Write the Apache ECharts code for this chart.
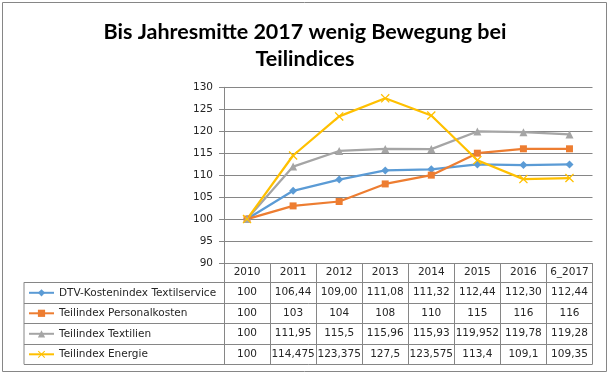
<!DOCTYPE html>
<html>
<head>
<meta charset="utf-8">
<script src="https://cdn.jsdelivr.net/npm/echarts@6/dist/echarts.min.js"></script>
<style>
html,body{margin:0;padding:0;background:#fff;}
#chart{width:610px;height:375px;}
</style>
</head>
<body>
<div id="chart"></div>
<script>
// ---- data (as printed in the reference's data table) ----
const titleLines = ['Bis Jahresmitte 2017 wenig Bewegung bei', 'Teilindices'];
const categories = ['2010', '2011', '2012', '2013', '2014', '2015', '2016', '6_2017'];
const seriesNames = ['DTV-Kostenindex Textilservice', 'Teilindex Personalkosten', 'Teilindex Textilien', 'Teilindex Energie'];
const dtvKostenindex = ['100', '106,44', '109,00', '111,08', '111,32', '112,44', '112,30', '112,44'];
const personalkosten = ['100', '103', '104', '108', '110', '115', '116', '116'];
const textilien = ['100', '111,95', '115,5', '115,96', '115,93', '119,952', '119,78', '119,28'];
const energie = ['100', '114,475', '123,375', '127,5', '123,575', '113,4', '109,1', '109,35'];
const yTicks = { min: 90, max: 130, interval: 5 };

// ---- styles / layout ----
const colors = ['#5B9BD5', '#ED7D31', '#A5A5A5', '#FFC000'];
const symbols = ['diamond', 'rect', 'triangle', 'path://M0,1L1,0L5,4L9,0L10,1L6,5L10,9L9,10L5,6L1,10L0,9L4,5Z'];
const symbolSizes = [8, 7, 8, 9];
const rows = [dtvKostenindex, personalkosten, textilien, energie];
const toNum = s => parseFloat(s.replace(',', '.'));

const W = 610, H = 375;
const GRID_LEFT = 224, GRID_RIGHT = 17.5, GRID_TOP = 87.3, GRID_BOTTOM = 112;
const AXIS_Y = H - GRID_BOTTOM;
const HEADER_H = 19.3, ROW_H = 20.5;
const TABLE_LEFT = 24, TABLE_RIGHT = W - GRID_RIGHT;
const LINE_COLOR = '#868686';
const TEXT_COLOR = '#262626';
const FONT = 'DejaVu Sans';
const FS = 10.5;

const xAxes = [{
  type: 'category', gridIndex: 0, position: 'bottom', data: categories, boundaryGap: true,
  axisLine: { show: true, onZero: false, lineStyle: { color: LINE_COLOR, width: 1 } },
  axisTick: { show: true, interval: 0, length: HEADER_H + ROW_H * rows.length, lineStyle: { color: LINE_COLOR, width: 1 } },
  axisLabel: { interval: 0, margin: 0, lineHeight: HEADER_H, color: TEXT_COLOR, fontFamily: FONT, fontSize: FS },
  splitLine: { show: false }
}];
rows.forEach((r, i) => {
  xAxes.push({
    type: 'category', gridIndex: 0, position: 'bottom', data: categories, boundaryGap: true,
    offset: HEADER_H + ROW_H * i,
    axisLine: { show: false, onZero: false }, axisTick: { show: false }, splitLine: { show: false },
    axisLabel: { interval: 0, margin: 0, lineHeight: ROW_H, color: TEXT_COLOR, fontFamily: FONT, fontSize: FS,
      formatter: (v, idx) => r[idx] }
  });
});

const graphics = [
  { type: 'rect', shape: { x: 2.5, y: 2.5, width: 604, height: 369 }, style: { fill: 'none', stroke: LINE_COLOR, lineWidth: 1 }, silent: true },
  { type: 'text', left: 'center', top: 18, style: { text: titleLines.join('\n'), font: 'bold 21.5px Lato', fill: '#000', textAlign: 'center', lineHeight: 27.5 } },
  { type: 'line', shape: { x1: TABLE_LEFT, y1: AXIS_Y + HEADER_H, x2: TABLE_LEFT, y2: AXIS_Y + HEADER_H + ROW_H * rows.length }, style: { stroke: LINE_COLOR, lineWidth: 1 } }
];
for (let i = 0; i <= rows.length; i++) {
  const y = Math.round(AXIS_Y + HEADER_H + ROW_H * i) + 0.5;
  graphics.push({ type: 'line', shape: { x1: TABLE_LEFT, y1: y, x2: TABLE_RIGHT, y2: y }, style: { stroke: LINE_COLOR, lineWidth: 1 } });
}

const chart = echarts.init(document.getElementById('chart'), null, { renderer: 'canvas' });
chart.setOption({
  animation: false,
  backgroundColor: '#fff',
  color: colors,
  grid: { left: GRID_LEFT, right: GRID_RIGHT, top: GRID_TOP, bottom: GRID_BOTTOM, containLabel: false },
  legend: {
    orient: 'vertical', left: 28, top: AXIS_Y + HEADER_H + 3.5, padding: 0,
    itemWidth: 25, itemHeight: 9, itemGap: ROW_H - 14,
    data: seriesNames,
    textStyle: { color: TEXT_COLOR, fontFamily: FONT, fontSize: FS, lineHeight: 14 }
  },
  xAxis: xAxes,
  yAxis: {
    type: 'value', min: yTicks.min, max: yTicks.max, interval: yTicks.interval,
    axisLine: { show: true, lineStyle: { color: LINE_COLOR, width: 1 } },
    axisTick: { show: true, length: 5, lineStyle: { color: LINE_COLOR } },
    axisLabel: { margin: 11, color: TEXT_COLOR, fontFamily: FONT, fontSize: FS },
    splitLine: { show: true, lineStyle: { color: LINE_COLOR, width: 1 } }
  },
  series: rows.map((r, i) => ({
    name: seriesNames[i], type: 'line', xAxisIndex: 0, yAxisIndex: 0,
    data: r.map(toNum),
    symbol: symbols[i], symbolSize: symbolSizes[i], showSymbol: true,
    lineStyle: { color: colors[i], width: 2.25 },
    itemStyle: { color: colors[i], borderWidth: 0 },
    emphasis: { disabled: true }
  })),
  graphic: graphics
});
</script>
</body>
</html>
